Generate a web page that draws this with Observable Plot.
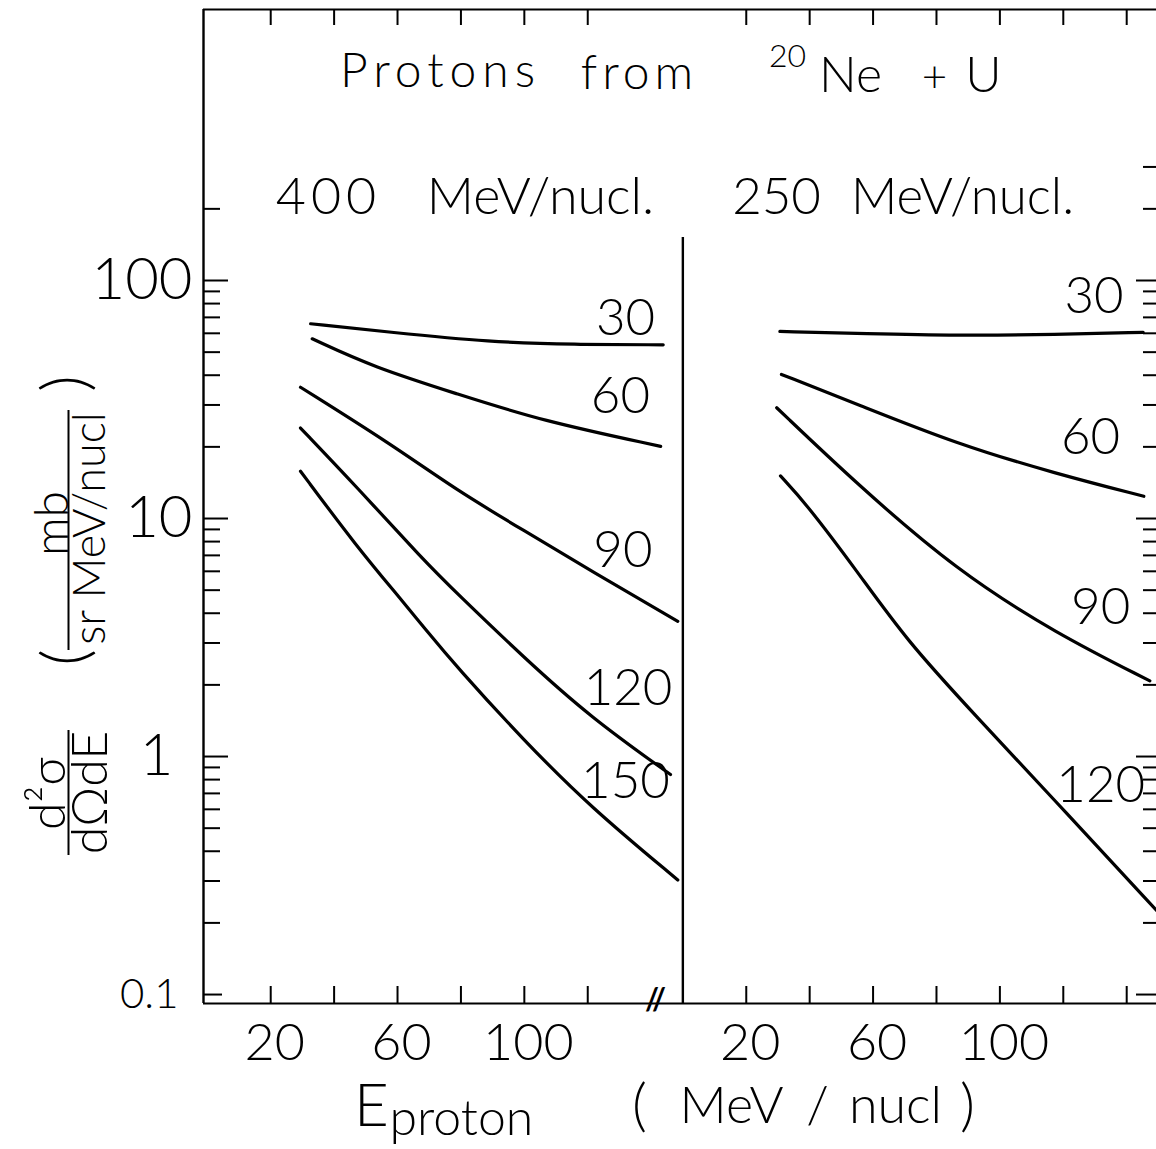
<!DOCTYPE html>
<html>
<head>
<meta charset="utf-8">
<script src="https://cdn.jsdelivr.net/npm/d3@7"></script>
<script src="https://cdn.jsdelivr.net/npm/@observablehq/plot@0.6"></script>
<style>
  html, body { margin: 0; padding: 0; background: #fff; overflow: hidden; }
</style>
</head>
<body>
<div id="chart"></div>
<script>
// ---------------- data ----------------
const beamLabels = ["400 MeV/nucl.", "250 MeV/nucl."];
const angles400 = [30, 60, 90, 120, 150];
const angles250 = [30, 60, 90, 120];

// proton energy E (MeV/nucl) and d2sigma/dOmega dE (mb/(sr MeV/nucl))
const E400_30  = [32.6, 57.8, 89.3, 115.5, 143.8];
const S400_30  = [65.8, 60.6, 55.1, 53.8, 53.7];
const E400_60  = [33.1, 52.5, 78.8, 105.1, 143.0];
const S400_60  = [56.9, 43.2, 33.4, 25.8, 20.1];
const E400_90  = [29.4, 57.8, 78.8, 99.8, 120.9, 148.4];
const S400_90  = [35.6, 20.6, 13.1, 8.91, 6.05, 3.70];
const E400_120 = [29.4, 47.3, 68.3, 78.8, 99.8, 120.9, 146.1];
const S400_120 = [24.0, 13.5, 6.66, 4.84, 2.61, 1.46, 0.84];
const E400_150 = [29.4, 47.3, 60.9, 68.3, 78.8, 99.8, 120.9, 148.4];
const S400_150 = [15.8, 7.57, 4.61, 3.49, 2.37, 1.17, 0.612, 0.303];

const E250_30  = [30.6, 58.0, 86.3, 117.9, 145.2];
const S250_30  = [61.1, 59.8, 58.7, 59.2, 60.6];
const E250_60  = [31.1, 54.8, 86.3, 117.9, 145.4];
const S250_60  = [40.3, 30.3, 20.6, 15.4, 12.4];
const E250_90  = [29.6, 54.8, 86.3, 117.9, 147.3];
const S250_90  = [29.2, 14.0, 6.05, 3.28, 2.08];
const E250_120 = [30.8, 39.0, 54.8, 70.6, 91.8, 121.3, 149.5];
const S250_120 = [15.1, 11.5, 6.05, 3.07, 1.51, 0.574, 0.225];

// tick values
const yMajorTicks = [0.1, 1, 10, 100];
const yMinorLeft  = [0.2,0.3,0.4,0.5,0.6,0.7,0.8,0.9, 2,3,4,5,6,7,8,9, 20,30,40,50,60,70,80,90, 200];
const yMinorRight = [0.2,0.3,0.4,0.5,0.6,0.7,0.8,0.9, 2,3,4,5,6,7,8,9, 20,30,40,50,60,70,80,90, 200, 300];
const xTickValues = [20, 40, 60, 80, 100, 120, 140];
const xTickLabels = [20, 60, 100];
const yTickLabels = ["0.1", "1", "10", "100"];

// ---------------- layout ----------------
const panelOffset = [0, 150];           // second panel drawn to the right of the first
const xDomain = [-1.2, 299.4];
const yDomain = [0.0917, 1376];

const curves = [
  {beam: 0, angle: angles400[0], E: E400_30,  S: S400_30},
  {beam: 0, angle: angles400[1], E: E400_60,  S: S400_60},
  {beam: 0, angle: angles400[2], E: E400_90,  S: S400_90},
  {beam: 0, angle: angles400[3], E: E400_120, S: S400_120},
  {beam: 0, angle: angles400[4], E: E400_150, S: S400_150},
  {beam: 1, angle: angles250[0], E: E250_30,  S: S250_30},
  {beam: 1, angle: angles250[1], E: E250_60,  S: S250_60},
  {beam: 1, angle: angles250[2], E: E250_90,  S: S250_90},
  {beam: 1, angle: angles250[3], E: E250_120, S: S250_120}
];
const rows = curves.flatMap(c => c.E.map((e, i) => ({beam: c.beam, angle: c.angle, key: c.beam + "-" + c.angle, E: e, S: c.S[i]})));

// where each angle label sits (panel-local E, value)
const labelSpots = [
  {beam: 0, angle: 30,  E: 131.9, S: 68.9},
  {beam: 0, angle: 60,  E: 130.3, S: 32.6},
  {beam: 0, angle: 90,  E: 131.1, S: 7.34},
  {beam: 0, angle: 120, E: 132.7, S: 1.92},
  {beam: 0, angle: 150, E: 131.9, S: 0.782},
  {beam: 1, angle: 30,  E: 129.7, S: 85.2},
  {beam: 1, angle: 60,  E: 128.6, S: 21.8},
  {beam: 1, angle: 90,  E: 131.8, S: 4.21},
  {beam: 1, angle: 120, E: 131.8, S: 0.752}
];

const X = d => d.E + panelOffset[d.beam];
const xTopBottom = [
  ...xTickValues.filter(v => v < 140).map(v => v + panelOffset[0]),
  ...xTickValues.map(v => v + panelOffset[1])
];
const xLabelPos = [...xTickLabels.map(v => v + panelOffset[0]), ...xTickLabels.map(v => v + panelOffset[1])];
const fmtX = d => String(d > 150 ? d - 150 : d);

const FONT = "Lato, 'Open Sans', sans-serif";
const txt = (s, o) => Plot.text([s], {text: d => d, fill: "black", stroke: null, ...o});

const chart = Plot.plot({
  width: 1156,
  height: 1149,
  marginLeft: 203,
  marginRight: 0,
  marginTop: 9,
  marginBottom: 146,
  style: {fontFamily: FONT, fontWeight: 300, background: "white", color: "black"},
  x: {type: "linear", domain: xDomain},
  y: {type: "log", domain: yDomain},
  marks: [
    // frame (left, top, bottom) and panel divider
    Plot.ruleX([xDomain[0]], {stroke: "black", strokeWidth: 2.4}),
    Plot.ruleY([yDomain[1]], {stroke: "black", strokeWidth: 2.2}),
    Plot.ruleY([yDomain[0]], {stroke: "black", strokeWidth: 2.2}),
    Plot.ruleX([panelOffset[1]], {stroke: "black", strokeWidth: 2.4, insetTop: 228}),

    // y ticks (inward), left and right
    Plot.axisY([1, 10, 100], {anchor: "left", tickSize: -25, strokeWidth: 2, fill: "none", label: null}),
    Plot.axisY([0.1], {anchor: "left", tickSize: -19, strokeWidth: 2, fill: "none", label: null}),
    Plot.axisY(yMinorLeft, {anchor: "left", tickSize: -17, strokeWidth: 2, fill: "none", label: null}),
    Plot.axisY(yMajorTicks, {anchor: "right", tickSize: -21, strokeWidth: 2, fill: "none", label: null}),
    Plot.axisY(yMinorRight, {anchor: "right", tickSize: -14, strokeWidth: 2, fill: "none", label: null}),

    // y tick labels
    Plot.axisY([10, 100], {anchor: "left", tickSize: 0, tickPadding: 11, fontSize: 58, label: null,
      tickFormat: d => yTickLabels[yMajorTicks.indexOf(d)]}),
    Plot.axisY([1], {anchor: "left", tickSize: 0, tickPadding: 30, fontSize: 58, label: null,
      tickFormat: d => yTickLabels[yMajorTicks.indexOf(d)]}),
    Plot.axisY([0.1], {anchor: "left", tickSize: 0, tickPadding: 25, fontSize: 42, label: null,
      tickFormat: d => yTickLabels[yMajorTicks.indexOf(d)]}),

    // x ticks (inward), top and bottom
    Plot.axisX(xTopBottom, {anchor: "top", tickSize: -15, strokeWidth: 2, fill: "none", label: null}),
    Plot.axisX(xTopBottom, {anchor: "bottom", tickSize: -17, strokeWidth: 2, fill: "none", label: null}),
    Plot.axisX(xLabelPos, {anchor: "bottom", tickSize: 0, tickPadding: 20, fontSize: 52, label: null, tickFormat: fmtX, dx: 4}),

    // axis break mark
    txt("//", {x: 141.4, frameAnchor: "bottom", lineAnchor: "middle", fontSize: 30, fontWeight: 700, dy: -3}),

    // curves
    Plot.line(rows, {x: X, y: "S", z: "key", stroke: "black", strokeWidth: 3.2, curve: "basis"}),

    // angle labels
    Plot.text(labelSpots, {x: X, y: "S", text: d => String(d.angle), fontSize: 51, textAnchor: "middle", lineAnchor: "middle", fill: "black"}),

    // titles inside the frame
    txt("Protons", {frameAnchor: "top-left", dx: 440 - 203, dy: 86 - 9, textAnchor: "middle", lineAnchor: "bottom", fontSize: 48}),
    txt("from",    {frameAnchor: "top-left", dx: 639 - 203, dy: 88 - 9, textAnchor: "middle", lineAnchor: "bottom", fontSize: 48}),
    txt("20",      {frameAnchor: "top-left", dx: 787 - 203, dy: 66 - 9, textAnchor: "middle", lineAnchor: "bottom", fontSize: 32}),
    txt("Ne",      {frameAnchor: "top-left", dx: 850 - 203, dy: 91 - 9, textAnchor: "middle", lineAnchor: "bottom", fontSize: 50}),
    txt("+",       {frameAnchor: "top-left", dx: 934 - 203, dy: 91 - 9, textAnchor: "middle", lineAnchor: "bottom", fontSize: 44}),
    txt("U",       {frameAnchor: "top-left", dx: 983 - 203, dy: 91 - 9, textAnchor: "middle", lineAnchor: "bottom", fontSize: 50}),

    txt(beamLabels[0].split(" ")[0], {frameAnchor: "top-left", dx: 328 - 203, dy: 213 - 9, textAnchor: "middle", lineAnchor: "bottom", fontSize: 52}),
    txt(beamLabels[0].split(" ")[1], {frameAnchor: "top-left", dx: 540 - 203, dy: 213 - 9, textAnchor: "middle", lineAnchor: "bottom", fontSize: 52}),
    txt(beamLabels[1].split(" ")[0], {frameAnchor: "top-left", dx: 776 - 203, dy: 213 - 9, textAnchor: "middle", lineAnchor: "bottom", fontSize: 51}),
    txt(beamLabels[1].split(" ")[1], {frameAnchor: "top-left", dx: 962 - 203, dy: 213 - 9, textAnchor: "middle", lineAnchor: "bottom", fontSize: 51}),

    // x-axis title
    txt("E",      {frameAnchor: "bottom-left", dx: 371 - 203, dy: 1125 - 1003, textAnchor: "middle", lineAnchor: "bottom", fontSize: 60}),
    txt("proton", {frameAnchor: "bottom-left", dx: 389 - 203, dy: 1134 - 1003, textAnchor: "start", lineAnchor: "bottom", fontSize: 50}),
    txt("(",    {frameAnchor: "bottom-left", dx: 639 - 203, dy: 1124 - 1003, textAnchor: "middle", lineAnchor: "bottom", fontSize: 58}),
    txt("MeV",  {frameAnchor: "bottom-left", dx: 731 - 203, dy: 1122 - 1003, textAnchor: "middle", lineAnchor: "bottom", fontSize: 52}),
    txt("/",    {frameAnchor: "bottom-left", dx: 817 - 203, dy: 1122 - 1003, textAnchor: "middle", lineAnchor: "bottom", fontSize: 52}),
    txt("nucl", {frameAnchor: "bottom-left", dx: 895 - 203, dy: 1122 - 1003, textAnchor: "middle", lineAnchor: "bottom", fontSize: 52}),
    txt(")",    {frameAnchor: "bottom-left", dx: 967 - 203, dy: 1124 - 1003, textAnchor: "middle", lineAnchor: "bottom", fontSize: 58}),

    // y-axis title (rotated)
    txt("d²σ",  {frameAnchor: "left", dx: 48 - 203, dy: 793 - 506, rotate: -90, textAnchor: "middle", lineAnchor: "middle", fontSize: 50}),
    Plot.ruleX([xDomain[0]], {dx: 68 - 203, insetTop: 730 - 9, insetBottom: 1003 - 855, stroke: "black", strokeWidth: 2}),
    txt("dΩdE", {frameAnchor: "left", dx: 90 - 203, dy: 792 - 506, rotate: -90, textAnchor: "middle", lineAnchor: "middle", fontSize: 50}),
    txt("(",    {frameAnchor: "left", dx: 66 - 203, dy: 657 - 506, rotate: -90, textAnchor: "middle", lineAnchor: "middle", fontSize: 64}),
    txt(")",    {frameAnchor: "left", dx: 66 - 203, dy: 383 - 506, rotate: -90, textAnchor: "middle", lineAnchor: "middle", fontSize: 64}),
    txt("mb",   {frameAnchor: "left", dx: 52 - 203, dy: 523 - 506, rotate: -90, textAnchor: "middle", lineAnchor: "middle", fontSize: 48}),
    Plot.ruleX([xDomain[0]], {dx: 68 - 203, insetTop: 410 - 9, insetBottom: 1003 - 650, stroke: "black", strokeWidth: 2}),
    txt("sr MeV/nucl", {frameAnchor: "left", dx: 90 - 203, dy: 528 - 506, rotate: -90, textAnchor: "middle", lineAnchor: "middle", fontSize: 45})
  ]
});

// wider letter spacing of the hand-lettered title words
d3.select(chart).selectAll("text")
  .filter(function() { return ["Protons", "from", "400"].includes(this.textContent); })
  .style("letter-spacing", function() { return this.textContent === "Protons" ? "6px" : "5px"; });

document.getElementById("chart").append(chart);
</script>
</body>
</html>
